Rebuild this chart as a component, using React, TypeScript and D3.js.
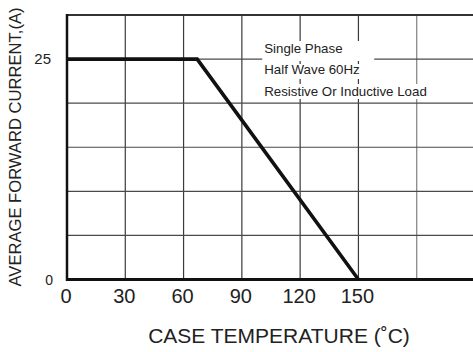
import * as d3 from 'd3';

const W = 473;
const H = 352;
const MARGIN = { top: 15, right: -2, bottom: 72.5, left: 67 };

// derating curve (case temp °C -> current A)
const tempC = [0, 67, 150];
const currentA = [25, 25, 0];

const xGrid = [0, 30, 60, 90, 120, 150, 180, 210];
const xTickLabels = [0, 30, 60, 90, 120, 150];
const yGrid = [0, 5, 10, 15, 20, 25, 30];
const yTickLabels = [0, 25];
const noteLines = ['Single Phase', 'Half Wave 60Hz', 'Resistive Or Inductive Load'];
const noteWidths = [112, 109, 166];

const FONT = "'Liberation Sans', Arial, Helvetica, sans-serif";

export default function App() {
  const x = d3.scaleLinear().domain([0, 210]).range([MARGIN.left, W - MARGIN.right]);
  const y = d3.scaleLinear().domain([0, 30]).range([H - MARGIN.bottom, MARGIN.top]);

  const line = d3
    .line<number>()
    .x((_, i) => x(tempC[i]))
    .y((d) => y(d));

  const noteX = x(101.5);

  return (
    <svg
      width={W}
      height={H}
      style={{ position: 'absolute', left: 0, top: 0, background: '#fff' }}
      fontFamily={FONT}
    >
      {/* grid */}
      {xGrid.slice(1).map((v) => (
        <line
          key={'vx' + v}
          x1={x(v)}
          x2={x(v)}
          y1={y(30)}
          y2={y(0)}
          stroke={v === 180 ? '#808080' : '#3a3a3a'}
          strokeWidth={1.2}
        />
      ))}
      {yGrid.slice(1, -1).map((v) => (
        <line
          key={'hy' + v}
          x1={x(0)}
          x2={x(210)}
          y1={y(v)}
          y2={y(v)}
          stroke="#4a4a4a"
          strokeWidth={1.2}
        />
      ))}

      {/* note backgrounds */}
      <rect x={noteX - 2} y={y(30) + 26} width={noteWidths[0]} height={20} fill="#fff" />
      <rect x={noteX - 2} y={y(30) + 49} width={noteWidths[1]} height={15} fill="#fff" />
      <rect x={noteX - 2} y={y(30) + 69} width={noteWidths[2]} height={15} fill="#fff" />

      {/* frame */}
      <line x1={x(0)} x2={x(210)} y1={y(30)} y2={y(30)} stroke="#333" strokeWidth={2} />
      <line x1={x(0)} x2={x(0)} y1={y(30) - 1} y2={y(0) + 1.5} stroke="#111" strokeWidth={2.5} />
      <line x1={x(0) - 1} x2={x(210)} y1={y(0)} y2={y(0)} stroke="#111" strokeWidth={3} />

      {/* curve */}
      <path
        d={line(currentA) ?? ''}
        fill="none"
        stroke="#111"
        strokeWidth={3.6}
        strokeLinejoin="miter"
      />

      {/* note text */}
      {noteLines.map((t, i) => (
        <text key={t} x={noteX} y={y(30) + 38 + i * 21.3} fontSize={13.3} fill="#222">
          {t}
        </text>
      ))}

      {/* y ticks */}
      {yTickLabels.map((v) => (
        <text
          key={'yt' + v}
          x={v === 0 ? 53 : 51}
          y={y(v) + (v === 0 ? 1.5 : 1)}
          textAnchor="end"
          dominantBaseline="middle"
          fontSize={v === 0 ? 14 : 15}
          fill="#222"
        >
          {v}
        </text>
      ))}

      {/* x ticks */}
      {xTickLabels.map((v) => (
        <text key={'xt' + v} x={x(v) - 1} y={303} textAnchor="middle" fontSize={20} fill="#222">
          {v}
        </text>
      ))}

      {/* axis titles */}
      <text x={279} y={343} textAnchor="middle" fontSize={21} fill="#222">
        CASE TEMPERATURE (˚C)
      </text>
      <text
        transform="translate(21,147) rotate(-90)"
        textAnchor="middle"
        fontSize={16.6}
        fill="#222"
      >
        AVERAGE FORWARD CURRENT,(A)
      </text>
    </svg>
  );
}
